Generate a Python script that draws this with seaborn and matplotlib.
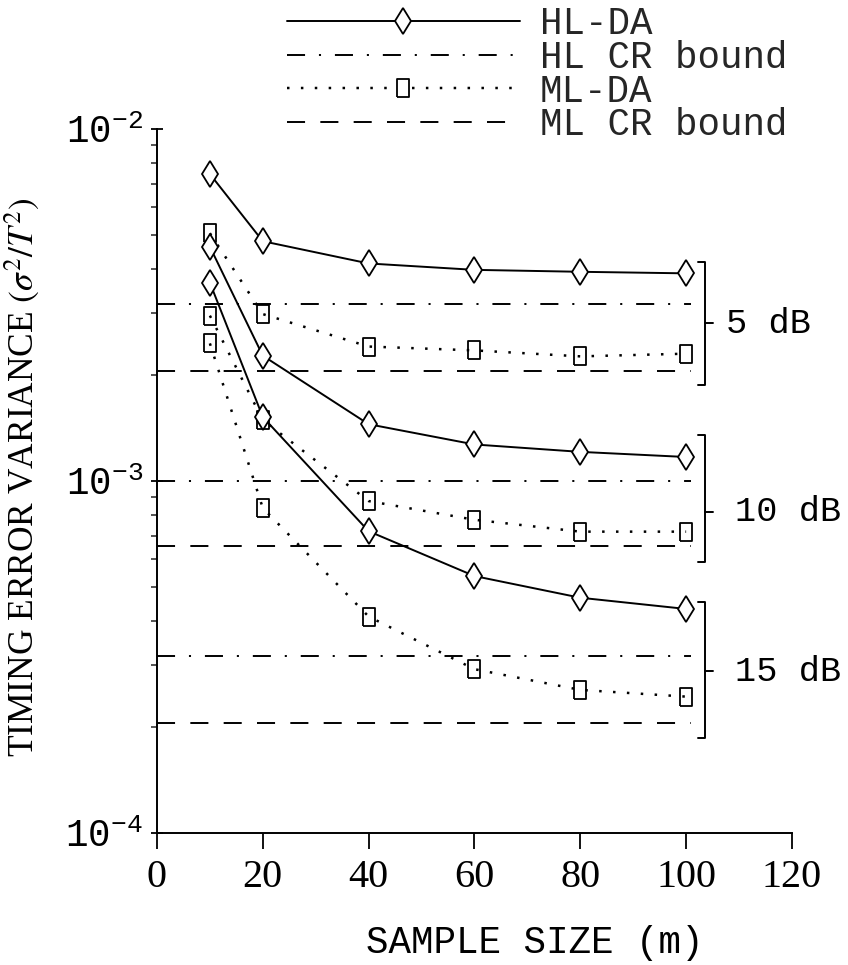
import numpy as np
import pandas as pd
import matplotlib
matplotlib.use("Agg")
import matplotlib.pyplot as plt
import matplotlib.ticker as mticker
from matplotlib.lines import Line2D
from matplotlib.font_manager import FontProperties
import seaborn as sns

# ---------------- data ----------------
sample_size = [10, 20, 40, 60, 80, 100]
snr_labels = ["5 dB", "10 dB", "15 dB"]

hl_da_5 = [7.45e-3, 4.80e-3, 4.15e-3, 3.98e-3, 3.93e-3, 3.89e-3]
hl_da_10 = [4.63e-3, 2.27e-3, 1.45e-3, 1.27e-3, 1.21e-3, 1.17e-3]
hl_da_15 = [3.66e-3, 1.52e-3, 7.20e-4, 5.37e-4, 4.66e-4, 4.33e-4]

ml_da_5 = [5.06e-3, 2.98e-3, 2.41e-3, 2.35e-3, 2.26e-3, 2.30e-3]
ml_da_10 = [2.95e-3, 1.49e-3, 8.77e-4, 7.76e-4, 7.18e-4, 7.18e-4]
ml_da_15 = [2.46e-3, 8.38e-4, 4.12e-4, 2.92e-4, 2.55e-4, 2.44e-4]

hl_cr_bound = [3.18e-3, 1.00e-3, 3.18e-4]
ml_cr_bound = [2.06e-3, 6.55e-4, 2.05e-4]
bound_x = [0, 101]

bracket_low = [1.87e-3, 5.89e-4, 1.86e-4]
bracket_mid = [2.81e-3, 8.17e-4, 2.88e-4]
bracket_high = [4.19e-3, 1.35e-3, 4.53e-4]

x_ticks = [0, 20, 40, 60, 80, 100, 120]
y_ticks = [1e-4, 1e-3, 1e-2]
y_tick_labels = [r"$\mathregular{10^{-4}}$", r"$\mathregular{10^{-3}}$", r"$\mathregular{10^{-2}}$"]

legend_labels = ["HL-DA", "HL CR bound", "ML-DA", "ML CR bound"]

# ---------------- style ----------------
sns.set_theme(style="ticks")
plt.rcParams["font.family"] = ["Liberation Mono", "DejaVu Sans"]
plt.rcParams["mathtext.fontset"] = "stix"
plt.rcParams["lines.scale_dashes"] = False
plt.rcParams["axes.linewidth"] = 1.4

MONO = "Liberation Mono"
SERIF = "Liberation Serif"

solid = "-"
dashdot = (0, (13, 10, 1.5, 10))
dotted = (0, (1.8, 8.2))
dashed = (0, (13, 11))

rect_marker = [(-0.72, -1), (0.72, -1), (0.72, 1), (-0.72, 1), (-0.72, -1)]

fig = plt.figure(figsize=(8.48, 9.65), dpi=100)
ax = fig.add_axes([0.1851, 0.1368, 0.7488, 0.7295])

hl_series = [hl_da_5, hl_da_10, hl_da_15]
ml_series = [ml_da_5, ml_da_10, ml_da_15]

LW = 1.4
for i in range(3):
    sns.lineplot(x=bound_x, y=[hl_cr_bound[i]] * 2, ax=ax, color="black",
                 linewidth=LW, linestyle=dashdot)
    sns.lineplot(x=bound_x, y=[ml_cr_bound[i]] * 2, ax=ax, color="black",
                 linewidth=LW, linestyle=dashed)
for i in range(3):
    sns.lineplot(x=sample_size, y=ml_series[i], ax=ax, color="black",
                 linewidth=LW + 0.4, linestyle=dotted, marker=rect_marker,
                 markersize=12.5, markerfacecolor="none",
                 markeredgecolor="black", markeredgewidth=1.3)
    sns.lineplot(x=sample_size, y=hl_series[i], ax=ax, color="black",
                 linewidth=LW, linestyle=solid, marker="d", markersize=13,
                 markerfacecolor="white", markeredgecolor="black",
                 markeredgewidth=1.3)

ax.set_yscale("log")
ax.set_xlim(0, 120)
ax.set_ylim(1e-4, 1e-2)

ax.xaxis.set_major_locator(mticker.FixedLocator(x_ticks))
ax.set_xticklabels([str(t) for t in x_ticks], fontfamily=SERIF, fontsize=29)
ax.yaxis.set_major_locator(mticker.FixedLocator(y_ticks))
ax.yaxis.set_major_formatter(mticker.FixedFormatter(y_tick_labels))
ax.yaxis.set_minor_locator(mticker.LogLocator(base=10, subs=np.arange(2, 10)))
ax.yaxis.set_minor_formatter(mticker.NullFormatter())
for lab in ax.get_yticklabels():
    lab.set_fontfamily(MONO)
    lab.set_fontsize(27)

ax.tick_params(axis="x", direction="out", length=11.5, width=1.3, pad=7, colors="black")
ax.tick_params(axis="y", which="major", direction="inout", length=8, width=1.3, pad=6, colors="black")
ax.tick_params(axis="y", which="minor", direction="out", length=4, width=1.1)

sns.despine(ax=ax)
for s in ["left", "bottom"]:
    ax.spines[s].set_color("black")

ax.set_xlabel("SAMPLE SIZE (m)", fontfamily=MONO, fontsize=27, color="black")
ax.xaxis.set_label_coords(0.595, -0.13)
ax.set_ylabel(r"TIMING ERROR VARIANCE $(\sigma^2/T^2)$", fontfamily=SERIF,
              fontsize=25.5, color="black")
ax.yaxis.set_label_coords(-0.18, 0.505)

# brackets with SNR labels
for i in range(3):
    ax.plot([102.3, 103.6, 103.6, 102.3], [bracket_high[i], bracket_high[i], bracket_low[i], bracket_low[i]],
            color="black", lw=1.4, clip_on=False)
    ax.plot([103.6, 105.1], [bracket_mid[i], bracket_mid[i]], color="black", lw=1.4, clip_on=False)
    tx = 107.6 if i == 0 else 109.3
    ax.text(tx, bracket_mid[i], snr_labels[i], fontfamily=MONO, fontsize=25.5,
            va="center", ha="left", color="black", clip_on=False)

# legend
handles = [
    Line2D([], [], color="black", lw=LW, linestyle=solid, marker="d", markersize=13,
           markerfacecolor="white", markeredgecolor="black", markeredgewidth=1.3),
    Line2D([], [], color="black", lw=LW, linestyle=dashdot),
    Line2D([], [], color="black", lw=LW + 0.4, linestyle=dotted, marker=rect_marker, markersize=12.5,
           markerfacecolor="white", markeredgecolor="black", markeredgewidth=1.3),
    Line2D([], [], color="black", lw=LW, linestyle=dashed),
]
fig.legend(handles, legend_labels, loc="upper left", bbox_to_anchor=(287 / 848, 1 - 6 / 965),
           frameon=False, prop=FontProperties(family=MONO, size=27), handlelength=6.2,
           handletextpad=0.55, labelspacing=-0.06, borderpad=0, borderaxespad=0, numpoints=1)

fig.savefig("out.png", dpi=100, facecolor="white")
